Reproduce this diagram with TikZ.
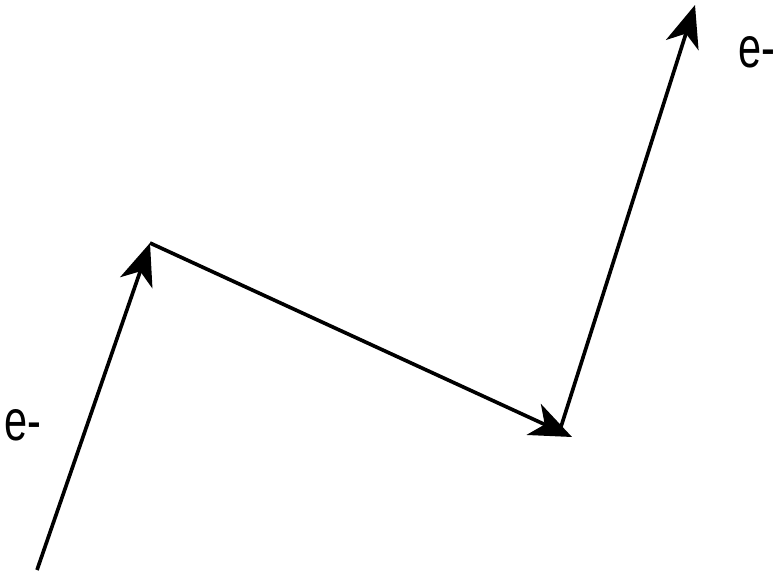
\documentclass[tikz,border=0pt]{standalone}
\usepackage{fontspec}
\setmainfont{Liberation Sans}
\usetikzlibrary{arrows.meta}

\begin{document}
\begin{tikzpicture}[
    path/.style={line width=2.6pt, -{Stealth[length=10.5mm, width=8.5mm, inset=3mm]}},
    lbl/.style={font=\fontsize{41}{48}\selectfont, inner sep=0pt}
]
% frame: 781x575 px, 1px = 0.025cm
\useasboundingbox (0,0) rectangle (19.525,14.375);

% Path points
\coordinate (start) at (0.925,0.125);
\coordinate (kink1) at (3.75,8.3);
\coordinate (kink2) at (14.3,3.45);
\coordinate (kink2s) at (13.975,3.55);
\coordinate (finish) at (17.375,14.25);

% Segments
\draw[path] (start) -- (kink1);
\draw[path] (kink1) -- (kink2);
\draw[path] (kink2s) -- (finish);

% Labels
\node[lbl] (ein) at (0.575,3.75) {\scalebox{0.72}[1]{e-}};
\node[lbl] (eout) at (18.925,13.075) {\scalebox{0.72}[1]{e-}};
\end{tikzpicture}
\end{document}
